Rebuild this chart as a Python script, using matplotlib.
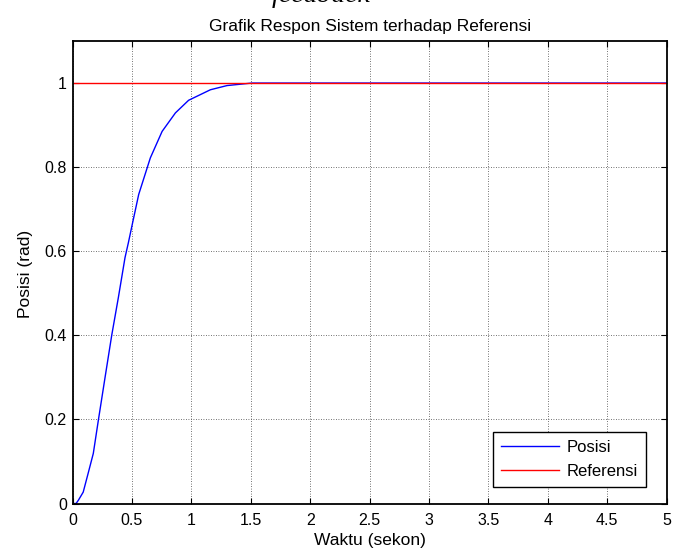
import matplotlib
matplotlib.use("Agg")
import matplotlib.pyplot as plt

# Data
t_pos = [0, 0.03, 0.05, 0.09, 0.13, 0.175, 0.217, 0.274, 0.33, 0.386, 0.442, 0.47, 0.5,
         0.557, 0.655, 0.754, 0.866, 0.977, 1.16, 1.30, 1.51, 5.0]
v_pos = [0, 0.0, 0.008, 0.027, 0.07, 0.119, 0.197, 0.30, 0.40, 0.49, 0.585, 0.62, 0.66,
         0.735, 0.822, 0.885, 0.929, 0.959, 0.984, 0.994, 1.0, 1.0]
t_ref = [0, 5]
v_ref = [1, 1]
xticks = [0, 0.5, 1, 1.5, 2, 2.5, 3, 3.5, 4, 4.5, 5]
xticklabels = ["0", "0.5", "1", "1.5", "2", "2.5", "3", "3.5", "4", "4.5", "5"]
yticks = [0, 0.2, 0.4, 0.6, 0.8, 1]
yticklabels = ["0", "0.2", "0.4", "0.6", "0.8", "1"]

plt.rcParams['font.family'] = ['Liberation Sans', 'DejaVu Sans']

fig = plt.figure(figsize=(6.82, 5.54), dpi=100)
ax = fig.add_axes([72.5/682, 1-503.5/554, (666.7-72.5)/682, (503.5-41)/554])

ax.plot(t_pos, v_pos, color=(0, 0, 1), lw=1.0, label="Posisi")
ax.plot(t_ref, v_ref, color=(1, 0, 0), lw=1.0, label="Referensi")

ax.set_xlim(0, 5)
ax.set_ylim(0, 1.1)
ax.set_xticks(xticks)
ax.set_xticklabels(xticklabels)
ax.set_yticks(yticks)
ax.set_yticklabels(yticklabels)
ax.tick_params(direction='in', top=True, right=True, length=4, width=0.8,
               labelsize=11.5, colors='black')
ax.tick_params(axis='x', pad=7)
ax.tick_params(axis='y', pad=4)
ax.grid(True, color='#444444', linestyle=(0, (1, 2)), linewidth=0.6)
for s in ax.spines.values():
    s.set_color('black')
    s.set_linewidth(1.3)

ax.set_title("Grafik Respon Sistem terhadap Referensi", fontsize=12.5, pad=7.2)
ax.set_xlabel("Waktu (sekon)", fontsize=12.5, va='top')
ax.xaxis.set_label_coords(0.5, -0.064)
ax.set_ylabel("Posisi (rad)", fontsize=12.5)
ax.yaxis.set_label_coords(-0.0665, 0.497)

leg = ax.legend(loc='lower right', bbox_to_anchor=(0.965, 0.036), borderaxespad=0,
                fontsize=12, fancybox=False, framealpha=1, edgecolor='black',
                handlelength=3.5, handletextpad=0.42, labelspacing=0.5,
                borderpad=0.5)
leg.get_frame().set_linewidth(1.0)

fig.text(321/682, 1-2/554, "feedback", fontsize=20, style='italic',
         family=['Liberation Serif', 'DejaVu Serif'], ha='center', va='baseline')

fig.savefig("out.png", dpi=100)
